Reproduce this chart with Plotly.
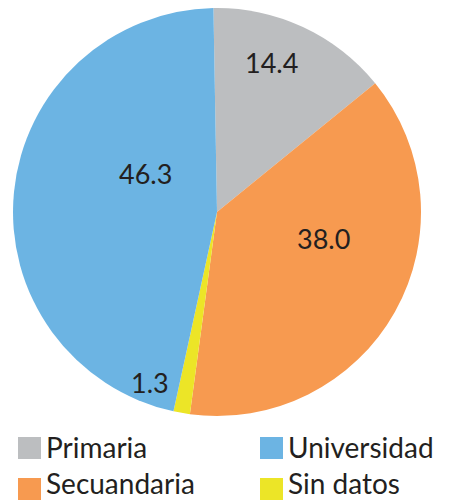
import plotly.graph_objects as go

categories = ["Primaria", "Secundaria", "Sin datos", "Universidad"]
values = [14.4, 38.0, 1.3, 46.3]
legend_labels = ["Primaria", "Universidad", "Secuandaria", "Sin datos"]

colors = {
    "Primaria": "#BCBEC0",
    "Secundaria": "#F79A50",
    "Sin datos": "#ECE527",
    "Universidad": "#6CB4E3",
}
legend_colors = ["#BCBEC0", "#6CB4E3", "#F79A50", "#ECE527"]

# the page body has an 8px margin, so the figure is drawn 8px smaller
OFF = 8
W, H = 450 - OFF, 502 - OFF
FONT = "Lato, 'Open Sans', sans-serif"
TXT = "#231F20"


def fx(px):
    return (px - OFF) / W


def fy(py):
    return min(1, max(0, 1 - (py - OFF) / H))


fig = go.Figure(go.Pie(
    labels=categories,
    values=values,
    sort=False,
    direction="clockwise",
    rotation=-1,
    marker=dict(colors=[colors[c] for c in categories], line=dict(width=0)),
    textinfo="none",
    hoverinfo="label+value",
    showlegend=False,
    domain=dict(x=[fx(13), fx(421)], y=[fy(416), 1]),
))

# slice value labels (pixel spots)
label_px = {
    "Primaria": (271, 62),
    "Secundaria": (323, 238),
    "Sin datos": (150, 382),
    "Universidad": (145, 173),
}
for cat, val in zip(categories, values):
    px, py = label_px[cat]
    fig.add_annotation(
        x=fx(px), y=fy(py), xref="paper", yref="paper",
        text=f"{val:.1f}", showarrow=False,
        font=dict(family=FONT, size=27, color=TXT),
        xanchor="center", yanchor="middle",
    )

# hand-made legend in two columns
legend_pos = [(18, 437), (260, 437), (18, 478), (260, 478)]
for i, (lab, col, (lx, ly)) in enumerate(zip(legend_labels, legend_colors, legend_pos)):
    fig.add_shape(
        type="rect", xref="paper", yref="paper",
        x0=fx(lx), x1=fx(lx + 23), y0=fy(ly + 22), y1=fy(ly),
        fillcolor=col, line=dict(width=0),
    )
    if i < 2:
        ty, anchor = fy(ly + 10), "middle"
    else:
        ty, anchor = 0, "bottom"   # keep the bottom row inside the page
    fig.add_annotation(
        x=fx(lx + 26), y=ty, xref="paper", yref="paper",
        text=lab, showarrow=False, xanchor="left", yanchor=anchor,
        font=dict(family=FONT, size=28, color=TXT),
    )

fig.update_layout(
    width=W, height=H,
    margin=dict(l=0, r=0, t=0, b=0),
    paper_bgcolor="white",
    plot_bgcolor="white",
)

fig.write_html("out.html")
